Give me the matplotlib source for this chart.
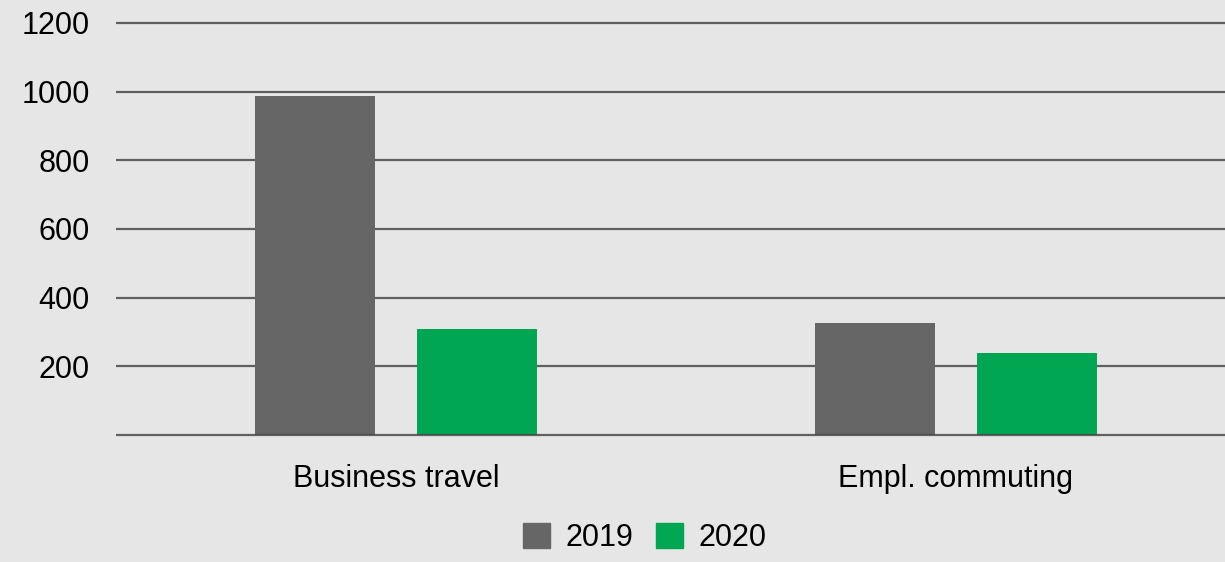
import numpy as np
import matplotlib.pyplot as plt
from matplotlib.patches import Patch

categories = ["Business travel", "Empl. commuting"]
years = ["2019", "2020"]
values_2019 = [988, 326]
values_2020 = [309, 238]
yticks = [200, 400, 600, 800, 1000, 1200]

bg = "#e6e6e6"
grey = "#666666"
green = "#00a651"
line_col = "#5f5f5f"

plt.rcParams["font.family"] = ["Liberation Sans", "DejaVu Sans"]
plt.rcParams["font.size"] = 22

fig = plt.figure(figsize=(12.25, 5.62), dpi=100, facecolor=bg)
ax = fig.add_axes([116 / 1225, (562 - 438.4) / 562, 1120 / 1225, 418.9 / 562])
ax.set_facecolor(bg)

x = np.arange(len(categories))
w = 0.214
off = 0.145
ax.bar(x - off, values_2019, w, color=grey, zorder=2, label=years[0])
ax.bar(x + off, values_2020, w, color=green, zorder=2, label=years[1])

# horizontal grid behind the bars, baseline on top
for t in yticks:
    ax.axhline(t, color=line_col, lw=1.6, zorder=1)
ax.axhline(0, color="#4a4a4a", lw=1.6, zorder=3, alpha=0.85)

ax.set_xlim(-0.5, 1.5)
ax.set_ylim(-10, 1210)
ax.set_yticks(yticks)
ax.set_xticks(x)
ax.set_xticklabels(categories)
ax.tick_params(axis="both", length=0)
ax.tick_params(axis="y", pad=19)
ax.tick_params(axis="x", pad=18.5)
for s in ax.spines.values():
    s.set_visible(False)

handles = [Patch(color=grey), Patch(color=green)]
fig.legend(handles, years, loc="center", bbox_to_anchor=(645 / 1225, 24 / 562),
           ncol=2, frameon=False, handlelength=0.88, handleheight=0.88,
           handletextpad=0.5, columnspacing=0.75, borderpad=0, borderaxespad=0)

fig.savefig("out.png", dpi=100, facecolor=bg)
